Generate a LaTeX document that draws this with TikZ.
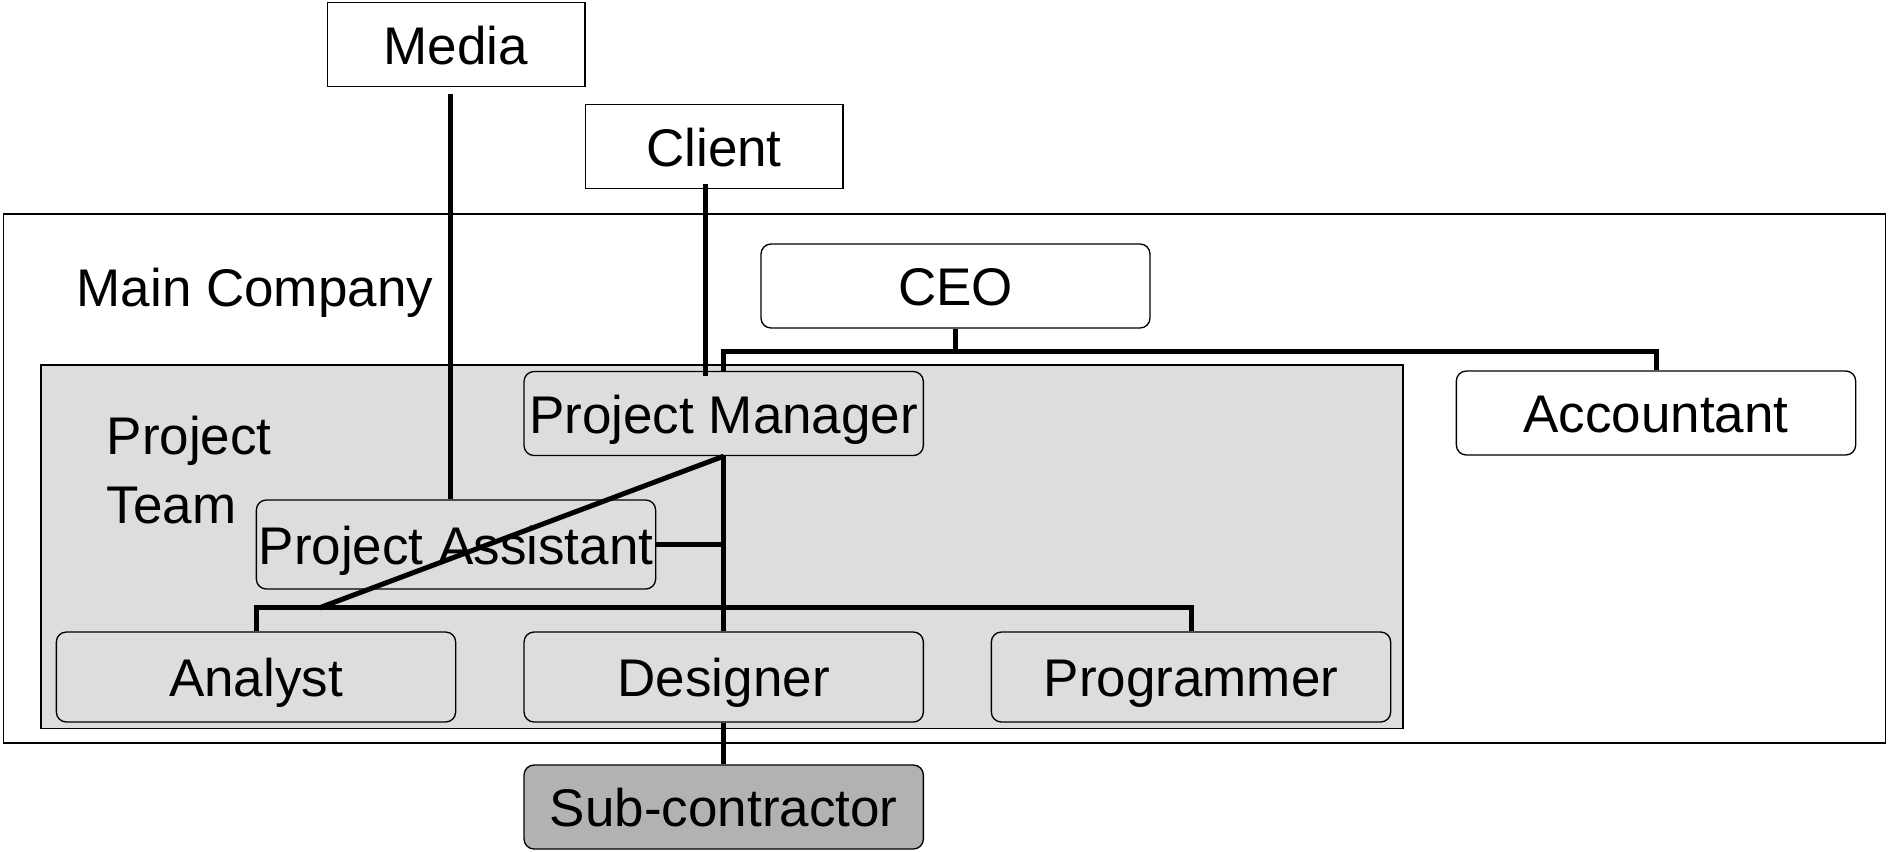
\documentclass[tikz,border=0pt]{standalone}
\usepackage{fontspec}
\setmainfont{Liberation Sans}
\usetikzlibrary{positioning, calc}

\definecolor{teamgray}{RGB}{221,221,221}
\definecolor{subgray}{RGB}{178,178,178}

\begin{document}
\begin{tikzpicture}
    [x=0.3pt, y=-0.3pt,
    every node/.style={font=\fontsize{15.9}{19}\selectfont},
    plainbox/.style={rectangle, draw=black, line width=0.4pt, inner sep=0pt,
        text height=11.8pt, text depth=0pt,
        minimum width=77.3pt, minimum height=25.2pt},
    rolebox/.style={rectangle, rounded corners=3pt, draw=black, line width=0.4pt,
        inner sep=0pt, text height=11.8pt, text depth=0pt,
        fill=teamgray, minimum width=119.8pt, minimum height=25.2pt},
    link/.style={line width=1.5pt}]

    \useasboundingbox (0,0) rectangle (1888,851);

    %Frames
    \draw[line width=0.5pt] (3.6,214) rectangle (1885.6,743);
    \draw[line width=0.4pt, fill=teamgray] (41,365) rectangle (1403,728.5);
    \node[anchor=base west, inner sep=0pt](maincompany) at (76,306.5){Main Company};
    \node[anchor=west, inner sep=0pt, align=left, font=\fontsize{15.9}{20.5}\selectfont](projectteam) at (106,470){Project\\Team};

    %Nodes
    \node[plainbox](media) at (456,44.5){Media};
    \node[plainbox](client) at (714,146.5){Client};
    \node[rolebox, fill=white, minimum width=116.7pt](ceo) at (955.5,286){CEO};
    \node[rolebox](pm) at (723.7,413.5){Project Manager};
    \node[rolebox, fill=white](accountant) at (1656,413){Accountant};
    \node[rolebox, minimum height=26.7pt](assistant) at (456,544.5){Project Assistant};
    \node[rolebox, minimum height=27pt](analyst) at (256,677){Analyst};
    \node[rolebox, minimum height=27pt](designer) at (723.7,677){Designer};
    \node[rolebox, minimum height=27pt](programmer) at (1191,677){Programmer};
    \node[rolebox, fill=subgray](sub) at (723.7,807){Sub-contractor};

    \coordinate (mediafoot) at (450,94);
    \coordinate (clientfoot) at (705.6,184);
    \coordinate (diagfoot) at (319,608);

    %Lines
    \draw[link](mediafoot)--(mediafoot |- assistant.north);
    \draw[link](clientfoot)--($(clientfoot |- pm.north)+(0,5)$);
    \draw[link](ceo.south)--++(0,22.5) coordinate (ceojoint) -| (pm.north);
    \draw[link](ceojoint) -| (accountant.north);
    \draw[link](pm.south)--(designer.north);
    \draw[link](assistant.east)--(assistant.east -| pm.south);
    \draw[link](analyst.north)--++(0,-24) -| (programmer.north);
    \draw[link](pm.south)--(diagfoot);
    \draw[link](designer.south)--(sub.north);
\end{tikzpicture}
\end{document}
